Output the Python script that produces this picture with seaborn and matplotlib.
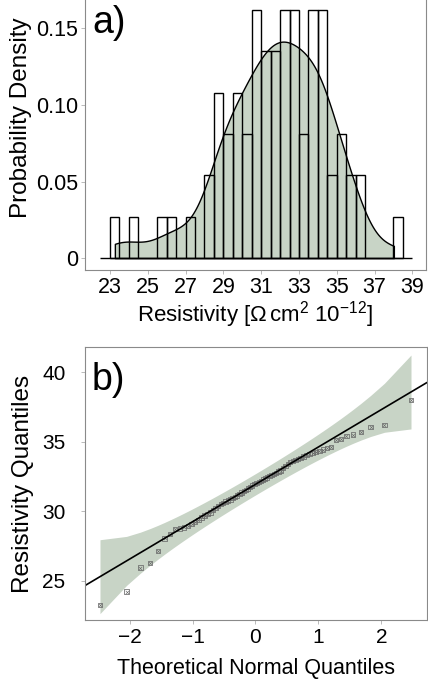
import numpy as np
import matplotlib
matplotlib.use("Agg")
import matplotlib.pyplot as plt
import seaborn as sns
from statistics import NormalDist

# Measured resistivity values (Ohm cm^2 10^-12), one per sample
resistivity = [
    23.26, 24.22, 25.95, 26.28, 27.15,
    28.05, 28.35,
    28.71, 28.78, 28.85, 28.95,
    29.10, 29.25, 29.38,
    29.57, 29.70, 29.80, 29.92,
    30.10, 30.22, 30.38,
    30.55, 30.62, 30.70, 30.78, 30.86, 30.95,
    31.05, 31.15, 31.25, 31.35, 31.45,
    31.55, 31.65, 31.75, 31.85, 31.95,
    32.04, 32.12, 32.20, 32.28, 32.36, 32.44,
    32.54, 32.62, 32.70, 32.78, 32.86, 32.94,
    33.10, 33.25, 33.40,
    33.54, 33.62, 33.70, 33.78, 33.86, 33.94,
    34.04, 34.12, 34.20, 34.28, 34.36, 34.44,
    34.55, 34.65,
    35.14, 35.21, 35.41,
    35.52, 35.70,
    36.05, 36.20,
    38.02,
]

hist_binrange = (23.0, 38.5)
hist_binwidth = 0.5
density_xticks = [23, 25, 27, 29, 31, 33, 35, 37, 39]
density_yticks = [0, 0.05, 0.10, 0.15]
density_yticklabels = ["0", "0.05", "0.10", "0.15"]
qq_xticks = [-2, -1, 0, 1, 2]
qq_yticks = [25, 30, 35, 40]

sns.set_theme(style="white")
plt.rcParams["font.family"] = ["Liberation Sans", "DejaVu Sans"]
plt.rcParams["mathtext.fontset"] = "custom"
plt.rcParams["mathtext.rm"] = "Liberation Sans"
plt.rcParams["mathtext.it"] = "Liberation Sans:italic"
plt.rcParams["text.color"] = "black"
plt.rcParams["axes.labelcolor"] = "black"

FILL = "#c8d4c6"
SPINE = "#8a8a8a"
W, H = 428, 682
fig = plt.figure(figsize=(W / 100, H / 100), dpi=100)


def px_axes(left, top, right, bottom):
    return fig.add_axes([left / W, 1 - bottom / H, (right - left) / W, (bottom - top) / H])


def style_axes(ax, tick_size, pad):
    for sp in ax.spines.values():
        sp.set_color(SPINE)
        sp.set_linewidth(0.8)
    ax.tick_params(axis="both", which="major", direction="out", length=3, width=0.6,
                   color="#b0b0b0", labelcolor="black", labelsize=tick_size, pad=pad,
                   bottom=True, left=True)
    ax.grid(False)


# ---- a) histogram with kernel density estimate ----
ax1 = px_axes(85, -2, 426, 270)
sns.kdeplot(x=resistivity, ax=ax1, cut=0, bw_adjust=0.8, fill=True, color=FILL,
            alpha=1, edgecolor="black", linewidth=1.0)
sns.histplot(x=resistivity, ax=ax1, stat="density", binwidth=hist_binwidth,
             binrange=hist_binrange, fill=False, color="black", linewidth=1.0)
ax1.hlines(0, 22.5, 39.0, color="black", linewidth=1.0)
ax1.set_xlim(21.68, 39.72)
ax1.set_ylim(-0.0078, 0.1699)
ax1.set_xticks(density_xticks)
ax1.set_yticks(density_yticks)
ax1.set_yticklabels(density_yticklabels)
style_axes(ax1, 15.5, 2)
ax1.set_xlabel(r"Resistivity [$\Omega\,$cm$^2$ 10$^{-12}$]", fontsize=16, labelpad=1)
ax1.set_ylabel("Probability Density", fontsize=17.5)
ax1.yaxis.set_label_coords(-0.155, 0.56)
ax1.text(92 / W, 1 - 33 / H, "a)", transform=fig.transFigure, fontsize=27,
         ha="left", va="baseline")

# ---- b) normal quantile plot with envelope ----
ax2 = px_axes(85, 347, 427, 620)
nd = NormalDist()
n = len(resistivity)
sample = np.sort(resistivity)
probs = (np.arange(1, n + 1) - 0.5) / n
z = np.array([nd.inv_cdf(p) for p in probs])
q1, q3 = np.quantile(sample, [0.25, 0.75])
slope = (q3 - q1) / (nd.inv_cdf(0.75) - nd.inv_cdf(0.25))
intercept = q1 - slope * nd.inv_cdf(0.25)
fit = intercept + slope * z
se = slope / np.array([nd.pdf(v) for v in z]) * np.sqrt(probs * (1 - probs) / n)
zc = nd.inv_cdf(0.975)
ax2.fill_between(z, fit - zc * se, fit + zc * se, color=FILL, linewidth=0)
ax2.axline((0, intercept), slope=slope, color="black", linewidth=1.2)
sns.scatterplot(x=z, y=sample, ax=ax2, marker="s", s=10, facecolor="none",
                edgecolor="#6a6a6a", linewidth=0.55)
sns.scatterplot(x=z, y=sample, ax=ax2, marker="x", s=6, color="#6a6a6a", linewidth=0.45)
ax2.set_xlim(-2.708, 2.724)
ax2.set_ylim(22.18, 41.83)
ax2.set_xticks(qq_xticks)
ax2.set_yticks(qq_yticks)
style_axes(ax2, 15, 3)
ax2.tick_params(axis="y", pad=11)
ax2.set_xlabel("Theoretical Normal Quantiles", fontsize=15.5, labelpad=8)
ax2.set_ylabel("Resistivity Quantiles", fontsize=17.5, labelpad=6)
ax2.text(92 / W, 1 - 390 / H, "b)", transform=fig.transFigure, fontsize=27,
         ha="left", va="baseline")

fig.savefig("out.png", dpi=100)
